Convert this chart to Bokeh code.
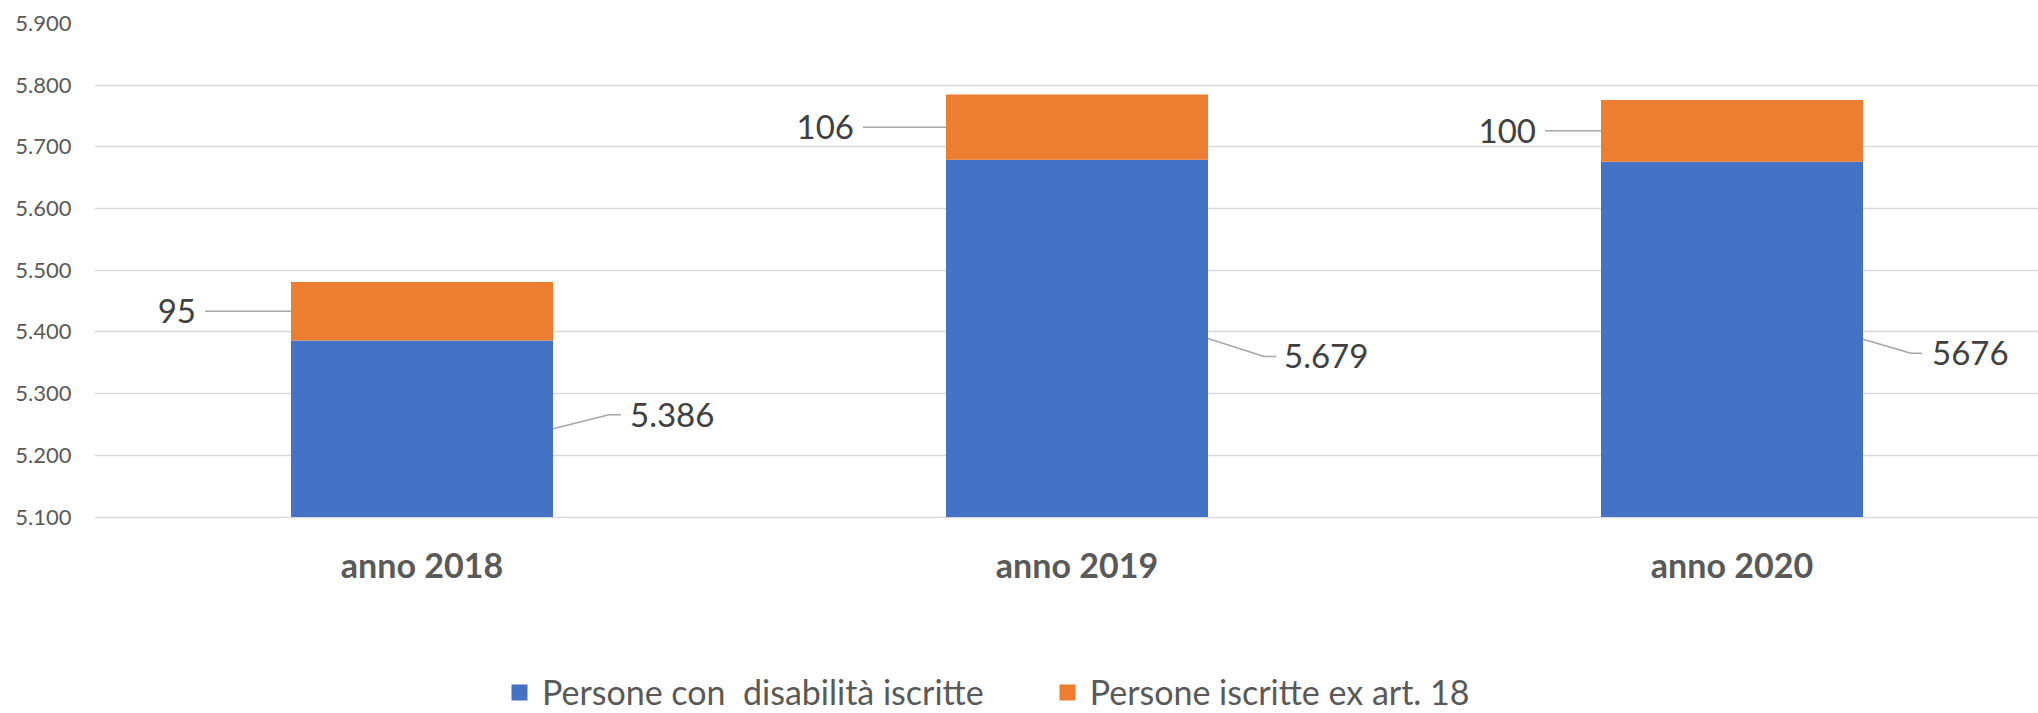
import numpy as np
from bokeh.plotting import figure
from bokeh.models import Range1d, FixedTicker, Legend, LegendItem, ColumnDataSource
from bokeh.core.properties import value
from bokeh.embed import file_html
from bokeh.resources import INLINE

# ---------------- data ----------------
categories = ["anno 2018", "anno 2019", "anno 2020"]
series_names = ["Persone con  disabilità iscritte", "Persone iscritte ex art. 18"]
disabili = [5386, 5679, 5676]
ex_art18 = [95, 106, 100]
disabili_labels = ["5.386", "5.679", "5676"]
ex_art18_labels = ["95", "106", "100"]
y_ticks = [5100, 5200, 5300, 5400, 5500, 5600, 5700, 5800, 5900]
y_tick_labels = ["5.100", "5.200", "5.300", "5.400", "5.500", "5.600", "5.700", "5.800", "5.900"]

# ---------------- layout / style ----------------
FONT = "Lato"
W, H = 2038, 713
BORDER_L, BORDER_T = 94, 23
GRID_H = 493.5                      # px spanned by the value axis (5.100 .. 5.900)
FRAME_W = W - BORDER_L
FRAME_H = H - BORDER_T
X_UNIT_PX = 655.0
X_END = FRAME_W / X_UNIT_PX
Y_MIN, Y_MAX = y_ticks[0], y_ticks[-1]
Y_PX = GRID_H / (Y_MAX - Y_MIN)
Y_LOW = Y_MAX - FRAME_H / Y_PX      # frame extends below the axis floor for labels/legend
BAR_W = 0.4
BLUE = "#4472C4"
ORANGE = "#ED7D31"

# label placement offsets (screen px)
orange_text_dx = [-95, -92, -65]   # text right end relative to bar left edge
orange_line_gap = 9
blue_elbow_dx = [56, 56, 48]
blue_elbow_dy = [-14, 18, 14]      # screen down positive
blue_flat_dx = [68, 68, 59]
blue_text_dx = [77, 76, 69]
cat_label_dy = 47.5                # category label centre below axis floor

xpos = np.arange(len(categories)) + 0.5
floor = np.full(len(categories), float(Y_MIN))
top_blue = np.array(disabili, dtype=float)
top_orange = top_blue + np.array(ex_art18, dtype=float)

p = figure(width=W, height=H, output_backend="svg", toolbar_location=None,
           x_range=Range1d(0, X_END), y_range=Range1d(Y_LOW, Y_MAX),
           x_axis_location=None,
           min_border_left=BORDER_L, min_border_right=0, min_border_top=BORDER_T,
           min_border_bottom=0)
p.outline_line_color = None
p.background_fill_color = "white"
p.border_fill_color = "white"

src = ColumnDataSource(dict(x=xpos, b0=floor, t0=top_blue, t1=top_orange))
r_blue = p.vbar(x="x", width=BAR_W, bottom="b0", top="t0", source=src,
                fill_color=BLUE, line_color=None)
r_orange = p.vbar(x="x", width=BAR_W, bottom="t0", top="t1", source=src,
                  fill_color=ORANGE, line_color=None)

# value axis
p.yaxis.ticker = FixedTicker(ticks=y_ticks)
p.yaxis.major_label_overrides = {t: l for t, l in zip(y_ticks, y_tick_labels)}
p.yaxis.axis_line_color = None
p.yaxis.major_tick_line_color = None
p.yaxis.minor_tick_line_color = None
p.yaxis.major_tick_in = 0
p.yaxis.major_tick_out = 0
p.yaxis.major_label_standoff = 23
p.yaxis.major_label_text_font = FONT
p.yaxis.major_label_text_font_size = "22px"
p.yaxis.major_label_text_color = "#595959"

p.xgrid.visible = False
p.ygrid.ticker = FixedTicker(ticks=y_ticks)
p.ygrid.grid_line_color = "#D9D9D9"
p.ygrid.grid_line_width = 1.5

# category labels
p.text(x=xpos, y=[Y_MIN - cat_label_dy / Y_PX] * len(categories), text=categories,
       text_align="center", text_baseline="middle", text_font=value(FONT),
       text_font_style="bold", text_font_size="34px", text_color="#595959")

# data labels with leader lines
half = BAR_W / 2
xs_lines, ys_lines = [], []
o_tx, o_ty, b_tx, b_ty = [], [], [], []
for i in range(len(categories)):
    left = xpos[i] - half
    right = xpos[i] + half
    oy = top_blue[i] + ex_art18[i] / 2.0
    tx = left + orange_text_dx[i] / X_UNIT_PX
    xs_lines.append([tx + orange_line_gap / X_UNIT_PX, left])
    ys_lines.append([oy, oy])
    o_tx.append(tx)
    o_ty.append(oy)
    by = (Y_MIN + top_blue[i]) / 2.0
    ey = by - blue_elbow_dy[i] / Y_PX
    xs_lines.append([right, right + blue_elbow_dx[i] / X_UNIT_PX, right + blue_flat_dx[i] / X_UNIT_PX])
    ys_lines.append([by, ey, ey])
    b_tx.append(right + blue_text_dx[i] / X_UNIT_PX)
    b_ty.append(ey)

p.multi_line(xs=xs_lines, ys=ys_lines, line_color="#A6A6A6", line_width=1.5)
p.text(x=o_tx, y=o_ty, text=ex_art18_labels, text_align="right", text_baseline="middle",
       text_font=value(FONT), text_font_size="33px", text_color="#404040")
p.text(x=b_tx, y=b_ty, text=disabili_labels, text_align="left", text_baseline="middle",
       text_font=value(FONT), text_font_size="33px", text_color="#404040")

legend = Legend(items=[LegendItem(label=series_names[0], renderers=[r_blue]),
                       LegendItem(label=series_names[1], renderers=[r_orange])],
                orientation="horizontal", location=(415, 1),
                glyph_width=20, glyph_height=20, label_standoff=13, spacing=73,
                padding=0, margin=0, border_line_color=None, background_fill_alpha=0,
                label_text_font=FONT, label_text_font_size="34px", label_text_color="#595959")
p.add_layout(legend, "center")

open("out.html", "w").write(file_html(p, INLINE))
